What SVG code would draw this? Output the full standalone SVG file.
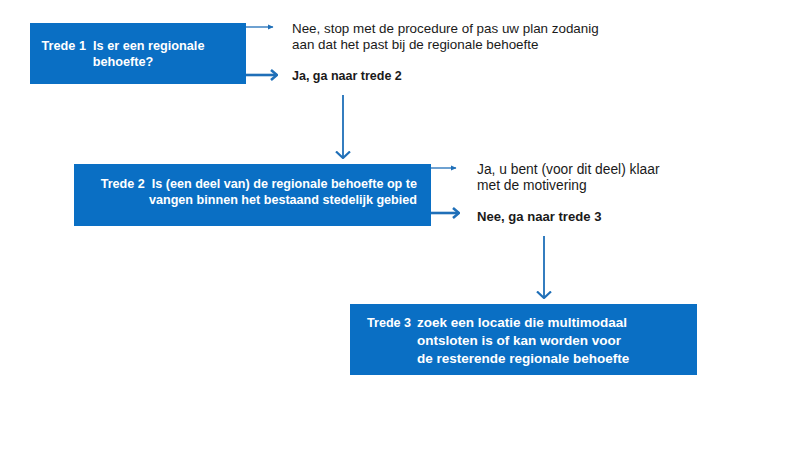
<svg xmlns="http://www.w3.org/2000/svg" width="802" height="449" viewBox="0 0 802 449">
<defs>
<style>
.box{fill:#0a6fc4;}
.bt{font-family:"Liberation Sans",Arial,sans-serif;font-weight:700;fill:#ffffff;}
.t{font-family:"Liberation Sans",Arial,sans-serif;fill:#1a1a1a;}
.tb{font-family:"Liberation Sans",Arial,sans-serif;font-weight:700;fill:#1a1a1a;}
.thin{stroke:#1f6fb8;stroke-width:1.3;fill:none;}
.thick{stroke:#1f6fb8;stroke-width:2.6;fill:none;}
.vert{stroke:#1f6fb8;stroke-width:1.8;fill:none;}
</style>
<marker id="ah" viewBox="0 0 6 6" refX="5.5" refY="3" markerWidth="6" markerHeight="6" markerUnits="userSpaceOnUse" orient="auto"><path d="M0.5,0.5 L6,3 L0.5,5.5 Z" fill="#1f6fb8"/></marker>
<marker id="ahb" viewBox="0 0 8 12" refX="7" refY="6" markerWidth="8" markerHeight="12" markerUnits="userSpaceOnUse" orient="auto"><path d="M1,1 L7,6 L1,11" fill="none" stroke="#1f6fb8" stroke-width="2.6"/></marker>
<marker id="ahv" viewBox="0 0 8 16" refX="7" refY="8" markerWidth="8" markerHeight="16" markerUnits="userSpaceOnUse" orient="auto"><path d="M0.5,1 L7,8 L0.5,15" fill="none" stroke="#1f6fb8" stroke-width="2.2"/></marker>
</defs>
<rect width="802" height="449" fill="#ffffff"/>
<g id="node-trede1">
<rect class="box" x="30" y="23" width="216" height="61"/>
<text class="bt" x="123" y="50" font-size="12.7" text-anchor="middle" xml:space="preserve">Trede 1  Is er een regionale</text>
<text class="bt" x="123" y="66" font-size="12.7" text-anchor="middle">behoefte?</text>
</g>
<g id="node-trede1-nee">
<text class="t" x="292" y="33" font-size="13.4">Nee, stop met de procedure of pas uw plan zodanig</text>
<text class="t" x="292" y="49" font-size="13.4">aan dat het past bij de regionale behoefte</text>
</g>
<g id="node-trede1-ja">
<text class="tb" x="292" y="80" font-size="12.5">Ja, ga naar trede 2</text>
</g>
<g id="node-trede2">
<rect class="box" x="74" y="164" width="357" height="62"/>
<text class="bt" x="417" y="188" font-size="12.6" text-anchor="end" xml:space="preserve">Trede 2  Is (een deel van) de regionale behoefte op te</text>
<text class="bt" x="417" y="204" font-size="12.6" text-anchor="end">vangen binnen het bestaand stedelijk gebied</text>
</g>
<g id="node-trede2-ja">
<text class="t" x="477" y="174" font-size="13.8">Ja, u bent (voor dit deel) klaar</text>
<text class="t" x="477" y="190" font-size="13.8">met de motivering</text>
</g>
<g id="node-trede2-nee">
<text class="tb" x="477" y="221" font-size="13.1">Nee, ga naar trede 3</text>
</g>
<g id="node-trede3">
<rect class="box" x="350" y="304" width="347" height="71"/>
<text class="bt" x="367" y="327" font-size="12.6">Trede 3</text>
<text class="bt" x="417" y="327" font-size="13.5">zoek een locatie die multimodaal</text>
<text class="bt" x="417" y="345" font-size="13.5">ontsloten is of kan worden voor</text>
<text class="bt" x="417" y="363" font-size="13.5">de resterende regionale behoefte</text>
</g>
<g id="connectors">
<line class="thin" x1="246" y1="27" x2="273" y2="27" marker-end="url(#ah)"/>
<line class="thick" x1="246" y1="75" x2="277" y2="75" marker-end="url(#ahb)"/>
<line class="vert" x1="343" y1="95" x2="343" y2="158" marker-end="url(#ahv)"/>
<line class="thin" x1="431" y1="168" x2="456" y2="168" marker-end="url(#ah)"/>
<line class="thick" x1="431" y1="213" x2="459" y2="213" marker-end="url(#ahb)"/>
<line class="vert" x1="544" y1="236" x2="544" y2="298" marker-end="url(#ahv)"/>
</g>
</svg>
